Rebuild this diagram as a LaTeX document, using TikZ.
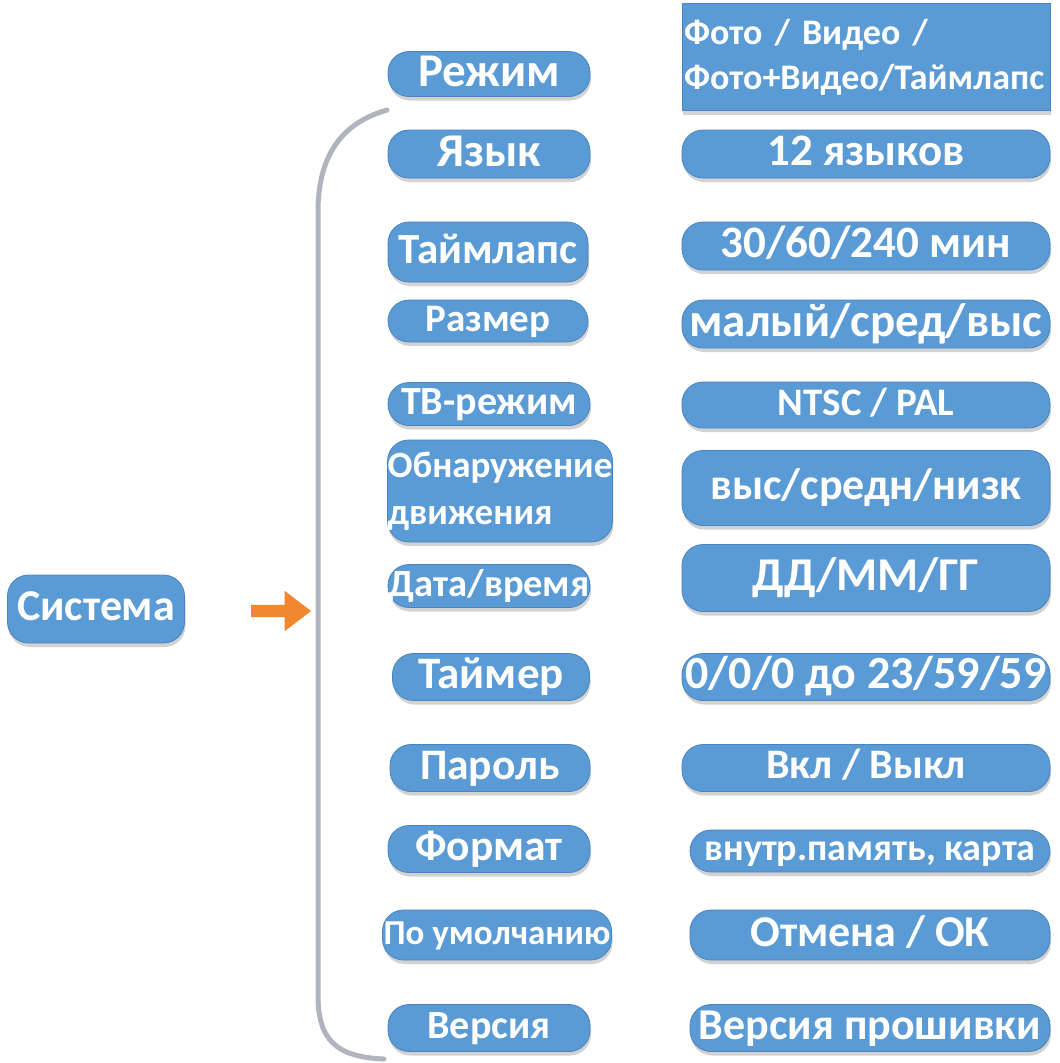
\documentclass[tikz,border=0pt]{standalone}
\usepackage{fontspec}
\setmainfont{Carlito}
\usetikzlibrary{shadows,shapes.arrows}
\definecolor{boxblue}{RGB}{91,155,213}
\definecolor{boxedge}{RGB}{72,132,192}
\definecolor{arroworange}{RGB}{240,136,48}
\definecolor{bracketgray}{RGB}{176,180,190}
\tikzset{
  box/.style={rounded corners=21pt, fill=boxblue, draw=boxedge, line width=0.8pt,
    text=white, inner sep=0pt,
    drop shadow={shadow xshift=1pt, shadow yshift=-4pt, opacity=0.35, fill=gray}},
  fs/.style={font=\bfseries\fontsize{#1}{#1}\selectfont,
    text height={0.66*#1}, text depth={0.14*#1}},
  bracketline/.style={draw=bracketgray, line width=5pt, line cap=round},
}
\begin{document}
\begin{tikzpicture}[x=1pt,y=-1pt]
\fill[white] (0,0) rectangle (1060,1063);
\useasboundingbox (0,0) rectangle (1060,1063);

% root
\node[box, fs=44, minimum width=177, minimum height=68] (sys) at (96,609) {Система};
\node[single arrow, fill=arroworange, draw=none, minimum height=60, minimum width=40,
      inner sep=6pt, single arrow head extend=14pt, single arrow tip angle=75] (arr) at (277,611) {};

% bracket
\coordinate (brtop) at (387,110);
\coordinate (brbot) at (384,1059);
\draw[bracketline] (brtop) .. controls (338,124) and (318,160) .. (318,212)
   -- (318,995) .. controls (318,1040) and (336,1057) .. (brbot);

% left column
\node[box, fs=47, minimum width=202, minimum height=45] (mode) at (489,74) {Режим};
\node[box, fs=47, minimum width=202, minimum height=48] (lang) at (489,154) {Язык};
\node[box, fs=43, minimum width=200, minimum height=60] (tl) at (488,252) {Таймлапс};
\node[box, fs=39, minimum width=200, minimum height=42] (size) at (488,321) {Размер};
\node[box, fs=40, minimum width=202, minimum height=43] (tv) at (489,404) {ТВ-режим};
\node[box, minimum width=224, minimum height=102, align=left,
      font=\bfseries\fontsize{37}{47}\selectfont] (motion) at (500,491) {Обнаружение\\движения};
\node[box, fs=38.5, minimum width=202, minimum height=43] (date) at (489,586) {Дата/время};
\node[box, fs=45, minimum width=197, minimum height=47] (timer) at (491,677) {Таймер};
\node[box, fs=43.5, minimum width=200, minimum height=47] (pwd) at (490,768) {Пароль};
\node[box, fs=43.5, minimum width=202, minimum height=47] (fmt) at (489,849) {Формат};
\node[box, fs=35, minimum width=229, minimum height=50] (def) at (497,935) {По умолчанию};
\node[box, fs=40, minimum width=202, minimum height=47] (ver) at (489,1028) {Версия};

% right column
\node[box, rounded corners=0pt, minimum width=368, minimum height=107, align=left,
      text width=364,
      font=\bfseries\fontsize{36}{45}\selectfont] (modev) at (866,57) {Фото / Видео /\\Фото+Видео/Таймлапс};
\node[box, fs=45, minimum width=368, minimum height=48] (langv) at (866,154) {12 языков};
\node[box, fs=45, minimum width=368, minimum height=48] (tlv) at (866,246) {30/60/240 мин};
\node[box, fs=47, minimum width=368, minimum height=48] (sizev) at (866,324) {малый/сред/выс};
\node[box, fs=39, minimum width=368, minimum height=46] (tvv) at (866,405) {NTSC / PAL};
\node[box, fs=44, minimum width=368, minimum height=75] (motionv) at (866,488) {выс/средн/низк};
\node[box, fs=47, minimum width=368, minimum height=67] (datev) at (866,578) {ДД/ММ/ГГ};
\node[box, fs=46, minimum width=368, minimum height=47] (timerv) at (866,677) {0/0/0 до 23/59/59};
\node[box, fs=42, minimum width=368, minimum height=47] (pwdv) at (866,768) {Вкл / Выкл};
\node[box, fs=38, minimum width=360, minimum height=42] (fmtv) at (870,851) {внутр.память, карта};
\node[box, fs=44, minimum width=360, minimum height=50] (defv) at (870,935) {Отмена / ОК};
\node[box, fs=44, minimum width=360, minimum height=47] (verv) at (870,1028) {Версия прошивки};
\end{tikzpicture}
\end{document}
